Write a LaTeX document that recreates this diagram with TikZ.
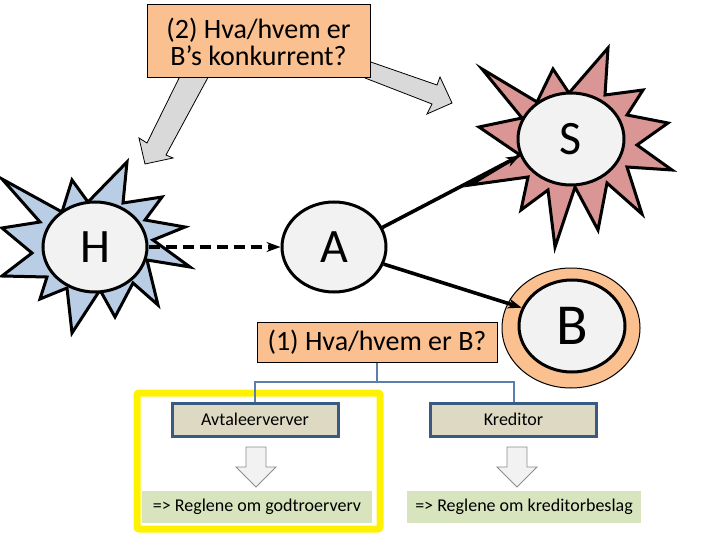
\documentclass[tikz,border=0pt]{standalone}
\usepackage{fontspec}
\setmainfont{Carlito}
\usetikzlibrary{shapes.geometric,arrows.meta}

\definecolor{peach}{HTML}{FAC090}
\definecolor{skyblue}{HTML}{B9CDE5}
\definecolor{rosered}{HTML}{D99694}
\definecolor{facegrey}{HTML}{F2F2F2}
\definecolor{arrowgrey}{HTML}{D9D9D9}
\definecolor{tanfill}{HTML}{DDD9C3}
\definecolor{navyline}{HTML}{3B5A82}
\definecolor{treeline}{HTML}{5B7FAA}
\definecolor{sagefill}{HTML}{D7E4BD}

\begin{document}
\begin{tikzpicture}[x=1pt, y=-1pt, >={Stealth[length=14pt,width=10pt]},
    face/.style={draw, ellipse, line width=3pt, fill=facegrey, minimum width=104pt,
        minimum height=90pt, inner sep=0pt, font=\fontsize{48}{48}\selectfont},
    sun/.style={draw, line width=3pt, line join=miter},
    question/.style={draw, fill=peach, line width=1pt, align=center, inner sep=0pt,
        font=\fontsize{28}{27}\selectfont},
    party/.style={draw=navyline, fill=tanfill, line width=3pt, minimum width=166pt,
        minimum height=33pt, inner sep=0pt, font=\fontsize{18}{18}\selectfont},
    rule/.style={fill=sagefill, minimum height=32pt, inner sep=0pt,
        font=\fontsize{18}{18}\selectfont},
    bigarrow/.style={draw, fill=arrowgrey, line width=0.8pt},
    smallarrow/.style={draw=black!45, fill=facegrey, line width=0.8pt}]

        \useasboundingbox (0,0) rectangle (720,540);

        % Grey arrows from the question
        \draw[bigarrow] (183,70) -- (212,70) -- (166,155) -- (173,158) -- (145,164)
            -- (139,138) -- (147,143) -- cycle;
        \draw[bigarrow] (365,60) -- (437,85) -- (440,77) -- (452,103) -- (427,114)
            -- (432,104) -- (365,78) -- cycle;
        \node[question, minimum width=223pt, minimum height=73pt] (ask2) at (258.5,41.5)
            {(2) Hva/hvem er\\B’s konkurrent?};

        % Suns
        \draw[sun, fill=skyblue] (2,179) -- (62,212) -- (72,180) -- (88,202) -- (127,162)
            -- (123,203) -- (162,197) -- (145,220) -- (185,227) -- (153,240) -- (190,267)
            -- (147,260) -- (158,305) -- (133,283) -- (115,317) -- (100,290) -- (72,333)
            -- (67,288) -- (40,299) -- (47,277) -- (2,276) -- (32,253) -- (2,228)
            -- (40,222) -- cycle;
        \draw[sun, fill=rosered] (482,69) -- (537,102) -- (553,69) -- (569,93) -- (608,48)
            -- (605,95) -- (643,90) -- (627,115) -- (668,123) -- (637,145) -- (672,170)
            -- (627,167) -- (642,214) -- (607,183) -- (598,230) -- (575,187) -- (555,247)
            -- (548,190) -- (521,210) -- (528,177) -- (470,185) -- (520,155) -- (479,127)
            -- (522,118) -- cycle;

        % Nodes
        \node[face] (H) at (95,247) {H};
        \node[face] (A) at (334,247) {A};
        \node[face, minimum width=106pt, minimum height=92pt] (S) at (571,139) {S};
        \node[draw, ellipse, fill=peach, line width=1pt, minimum width=138pt,
            minimum height=120pt] (Bring) at (571,328) {};
        \node[face, minimum width=106pt, minimum height=92pt,
            font=\fontsize{58}{58}\selectfont] (B) at (572,326) {B};

        % Edges
        \draw[->, line width=3.4pt, dash pattern=on 11pt off 6pt] (H) -- (A);
        \draw[->, line width=3.6pt] (A.22) -- (S.198);
        \draw[->, line width=3.6pt] (A.-19) -- (B.160);

        % Question (1) and its tree
        \node[question, minimum width=240pt, minimum height=40pt] (ask1) at (377,342)
            {(1) Hva/hvem er B?};
        \draw[yellow, line width=7pt, rounded corners=2pt] (137,393) rectangle (380,529);
        \node[party] (avtale) at (255,419.5) {Avtaleerverver};
        \node[party] (kreditor) at (513.5,419.5) {Kreditor};
        \draw[treeline, line width=2pt] (ask1.south) -- ++(0,19) -| (avtale.north);
        \draw[treeline, line width=2pt] (ask1.south) -- ++(0,19) -| (kreditor.north);

        \foreach \cx in {256,517}
            \draw[smallarrow] (\cx-10,447) -- (\cx+10,447) -- (\cx+10,467) -- (\cx+20,467)
                -- (\cx,487) -- (\cx-20,467) -- (\cx-10,467) -- cycle;

        \node[rule, minimum width=230pt] (godtro) at (257,507) {=> Reglene om godtroerverv};
        \node[rule, minimum width=234pt] (beslag) at (524,507) {=> Reglene om kreditorbeslag};

    \end{tikzpicture}
\end{document}
